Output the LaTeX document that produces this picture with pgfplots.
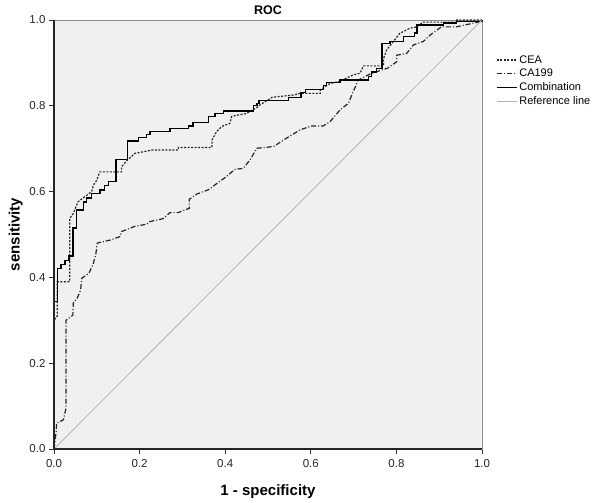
\documentclass[border=0pt]{standalone}
\usepackage{pgfplots}
\pgfplotsset{compat=1.18}
\usepackage{fontspec}
\setmainfont{Liberation Sans}
\definecolor{bg}{HTML}{F0F0F0}
\definecolor{refc}{HTML}{B4B4B4}
\definecolor{frame}{HTML}{8C8C8C}
\begin{document}
\begin{tikzpicture}[x=1pt,y=1pt]
\useasboundingbox (-54,-54) rectangle (546,449);
\begin{axis}[
  at={(0,0)}, anchor=origin,
  width=428pt, height=429pt, scale only axis,
  xmin=0, xmax=1, ymin=0, ymax=1,
  xtick={0,0.2,...,1.0}, ytick={0,0.2,...,1.0},
  /pgf/number format/assume math mode=true,
  /pgf/number format/.cd, fixed, fixed zerofill, precision=1, /pgfplots/.cd,
  tick label style={font=\fontsize{11.5}{12}\selectfont, text=black!85},
  xticklabel style={yshift=-2pt},
  tick align=outside, major tick length=5pt,
  tick style={black!80, line width=0.8pt},
  xtick pos=bottom, ytick pos=left,
  axis line style={frame, line width=0.8pt},
  axis background/.style={fill=bg},
  title={\textbf{ROC}}, title style={font=\fontsize{12.5}{14}\selectfont, yshift=-4pt},
  xlabel={\textbf{1 - specificity}}, ylabel={\textbf{sensitivity}},
  label style={font=\fontsize{15}{17}\selectfont},
  xlabel style={yshift=-10pt},
  ylabel style={yshift=0pt},
  legend style={draw=none, fill=none, at={(axis description cs:1.03,0.925)}, anchor=north west,
    font=\fontsize{11}{12}\selectfont, row sep=0.6pt, inner sep=1pt},
  legend cell align=left,
  legend image code/.code={\draw[#1] (0pt,0pt) -- (20pt,0pt);},
  clip=false,
]
\addplot[black!85, line width=1.2pt, dash pattern=on 2pt off 1.5pt] coordinates {
(0,0) (0,0.30) (0.0077,0.31) (0.0077,0.39) (0.037,0.39) (0.037,0.538) (0.045,0.549) (0.056,0.576)
(0.088,0.60) (0.092,0.615) (0.100,0.627) (0.107,0.646) (0.158,0.646) (0.158,0.658) (0.170,0.672)
(0.189,0.689) (0.23,0.697) (0.29,0.697) (0.291,0.703) (0.369,0.703) (0.369,0.72) (0.38,0.74)
(0.392,0.752) (0.411,0.759) (0.415,0.775) (0.427,0.778) (0.450,0.782) (0.474,0.796) (0.481,0.802)
(0.51,0.82) (0.559,0.825) (0.575,0.829) (0.622,0.829) (0.622,0.837) (0.645,0.852) (0.668,0.857)
(0.699,0.872) (0.715,0.876) (0.723,0.893) (0.77,0.893) (0.77,0.91) (0.777,0.93) (0.793,0.95)
(0.808,0.969) (0.832,0.981) (0.847,0.984) (0.863,0.995) (0.941,0.995) (0.941,1.0) (1,1)
};
\addlegendentry{CEA}
\addplot[black!85, line width=1.2pt, dash pattern=on 5pt off 2pt on 1pt off 2pt] coordinates {
(0,0) (0.005,0.04) (0.006,0.06) (0.022,0.068) (0.028,0.095) (0.028,0.30) (0.044,0.312) (0.045,0.34)
(0.054,0.351) (0.062,0.37) (0.065,0.398) (0.082,0.41) (0.092,0.433) (0.098,0.456) (0.101,0.48)
(0.131,0.487) (0.154,0.495) (0.158,0.507) (0.189,0.519) (0.217,0.524) (0.224,0.53) (0.255,0.537)
(0.271,0.551) (0.29,0.551) (0.316,0.561) (0.316,0.582) (0.333,0.594) (0.360,0.604) (0.40,0.633)
(0.423,0.652) (0.442,0.654) (0.458,0.674) (0.474,0.701) (0.513,0.705) (0.536,0.72) (0.575,0.744)
(0.602,0.753) (0.629,0.753) (0.645,0.763) (0.668,0.79) (0.688,0.806) (0.699,0.833) (0.711,0.86)
(0.74,0.875) (0.78,0.888) (0.801,0.903) (0.801,0.918) (0.824,0.922) (0.840,0.942) (0.863,0.95)
(0.879,0.965) (0.905,0.984) (0.94,0.984) (0.995,0.996) (1,1)
};
\addlegendentry{CA199}
\addplot[black, line width=1.3pt, const plot] coordinates {
(0,0) (0,0.343) (0.0077,0.42) (0.0164,0.43) (0.0257,0.44) (0.035,0.45) (0.0444,0.515) (0.053,0.557)
(0.0685,0.576) (0.0763,0.585) (0.088,0.596) (0.1075,0.604) (0.118,0.615) (0.127,0.623) (0.145,0.674)
(0.171,0.718) (0.197,0.726) (0.216,0.733) (0.224,0.740) (0.271,0.747) (0.314,0.753) (0.325,0.761)
(0.361,0.775) (0.376,0.782) (0.396,0.788) (0.466,0.80) (0.474,0.806) (0.479,0.813) (0.548,0.819)
(0.577,0.831) (0.587,0.838) (0.629,0.848) (0.637,0.855) (0.668,0.860) (0.734,0.868) (0.742,0.879)
(0.754,0.887) (0.766,0.946) (0.785,0.95) (0.816,0.961) (0.843,0.970) (0.848,0.988) (0.910,0.993)
(0.941,0.996) (1,1)
};
\addlegendentry{Combination}
\addplot[refc, line width=0.8pt] coordinates {(0,0) (1,1)};
\addlegendentry{Reference line}
\draw[black!85, line width=1.2pt] (axis cs:0,1) -- (axis cs:0,0) -- (axis cs:1,0);
\end{axis}
\end{tikzpicture}
\end{document}
